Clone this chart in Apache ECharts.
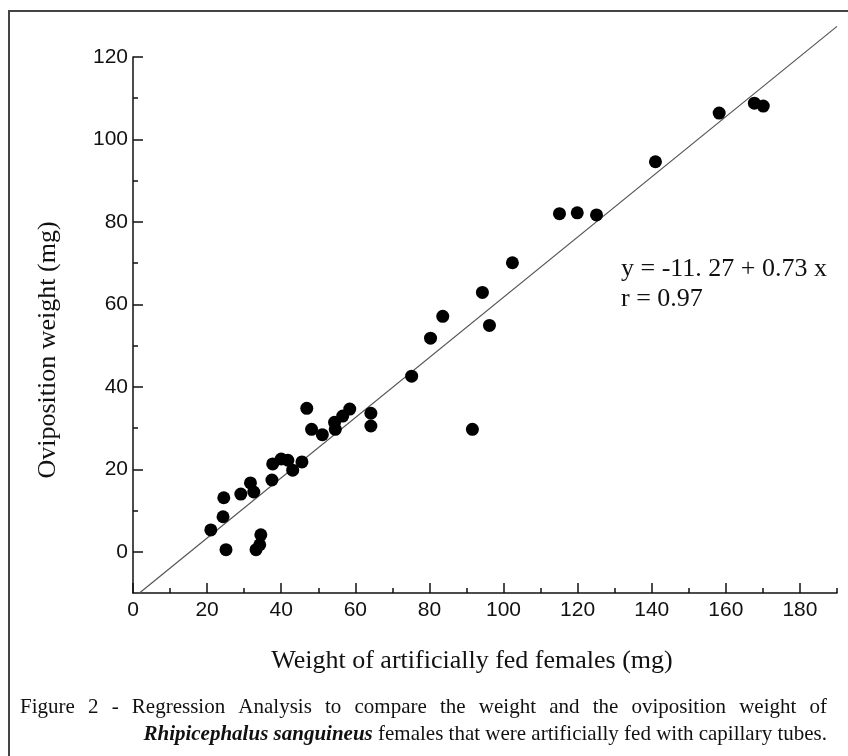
<!DOCTYPE html>
<html>
<head>
<meta charset="utf-8">
<script src="https://cdn.jsdelivr.net/npm/echarts@6/dist/echarts.min.js"></script>
<style>
  html, body { margin: 0; padding: 0; background: #fff; }
  #main { width: 848px; height: 756px; }
</style>
</head>
<body>
<div id="main"></div>
<script>
// weight of artificially fed females (mg)
var weightFed = [21.0, 24.3, 24.5, 25.1, 29.1, 31.7, 32.6, 33.2, 34.2, 34.5,
  37.5, 37.7, 40.0, 41.8, 43.1, 45.6, 46.9, 48.2, 51.1, 54.4,
  54.6, 56.6, 58.5, 64.2, 64.2, 75.2, 80.3, 83.6, 91.6, 94.3,
  96.2, 102.4, 115.1, 119.9, 125.1, 141.0, 158.2, 167.7, 170.1];
// oviposition weight (mg)
var ovipositionWeight = [5.3, 8.5, 13.1, 0.5, 14.0, 16.7, 14.5, 0.5, 1.7, 4.1,
  17.4, 21.3, 22.5, 22.2, 19.8, 21.8, 34.8, 29.7, 28.4, 31.4,
  29.7, 32.9, 34.6, 30.5, 33.6, 42.6, 51.8, 57.1, 29.7, 62.9,
  54.9, 70.1, 82.0, 82.2, 81.7, 94.6, 106.4, 108.8, 108.1];

// regression y = a + b x, drawn across the x range
var regA = -11.27;
var regB = 0.73;
var regLineX = [1.74, 190];

var xMajorTicks = [0, 20, 40, 60, 80, 100, 120, 140, 160, 180];
var xMinorTicks = [10, 30, 50, 70, 90, 110, 130, 150, 170, 190];
var yMajorTicks = [0, 20, 40, 60, 80, 100, 120];
var yMinorTicks = [10, 30, 50, 70, 90, 110];

var captionLine1 = 'Figure 2 - Regression Analysis to compare the weight and the oviposition weight of';
var captionSpecies = 'Rhipicephalus sanguineus';
var captionLine2 = ' females that were artificially fed with capillary tubes.';

var points = weightFed.map(function (x, i) { return [x, ovipositionWeight[i]]; });
var regLine = regLineX.map(function (x) { return [x, regA + regB * x]; });

var serif = '"Liberation Serif", "Times New Roman", serif';
var sans = '"Liberation Sans", Arial, sans-serif';

// justify the first caption line between two edges
var capFont = '21px ' + serif;
var ctx = document.createElement('canvas').getContext('2d');
ctx.font = capFont;
var words = captionLine1.split(' ');
var widths = words.map(function (w) { return ctx.measureText(w).width; });
var total = widths.reduce(function (a, b) { return a + b; }, 0);
var capLeft = 20, capRight = 827;
var gap = (capRight - capLeft - total) / (words.length - 1);
var captionEls = [];
var cx = capLeft;
words.forEach(function (w, i) {
  captionEls.push({
    type: 'text', left: cx, top: 697,
    style: { text: w, font: capFont, fill: '#111' }
  });
  cx += widths[i] + gap;
});

var myChart = echarts.init(document.getElementById('main'));

var axisLineStyle = { color: '#111', width: 1.5 };

myChart.setOption({
  animation: false,
  grid: { left: 133, right: 11, top: 57, bottom: 163 },
  xAxis: [
    {
      type: 'value', min: 0, max: 190, position: 'bottom',
      name: 'Weight of artificially fed females (mg)',
      nameLocation: 'middle', nameGap: 55,
      nameTextStyle: { fontFamily: serif, fontSize: 26, color: '#111', padding: [0, 26, 0, 0] },
      axisLine: { show: true, onZero: false, lineStyle: axisLineStyle },
      axisTick: { show: true, inside: true, length: 10, customValues: xMajorTicks, lineStyle: axisLineStyle },
      axisLabel: { customValues: xMajorTicks, fontFamily: sans, fontSize: 21, color: '#111', margin: 7 },
      splitLine: { show: false }
    },
    {
      type: 'value', min: 0, max: 190, position: 'bottom', offset: 0,
      axisLine: { show: false, onZero: false },
      axisTick: { show: true, inside: true, length: 5, customValues: xMinorTicks, lineStyle: axisLineStyle },
      axisLabel: { show: false },
      splitLine: { show: false }
    }
  ],
  yAxis: [
    {
      type: 'value', min: -10, max: 120, position: 'left',
      axisLine: { show: true, onZero: false, lineStyle: axisLineStyle },
      axisTick: { show: true, inside: true, length: 10, customValues: yMajorTicks, lineStyle: axisLineStyle },
      axisLabel: { customValues: yMajorTicks, fontFamily: sans, fontSize: 21, color: '#111', margin: 5 },
      splitLine: { show: false }
    },
    {
      type: 'value', min: -10, max: 120, position: 'left', offset: 0,
      axisLine: { show: false, onZero: false },
      axisTick: { show: true, inside: true, length: 5, customValues: yMinorTicks, lineStyle: axisLineStyle },
      axisLabel: { show: false },
      splitLine: { show: false }
    }
  ],
  graphic: [
    {
      type: 'rect', z: -1, silent: true,
      shape: { x: 9, y: 11, width: 900, height: 800 },
      style: { fill: 'none', stroke: '#444', lineWidth: 2 }
    },
    {
      type: 'text', x: 48, y: 350, rotation: Math.PI / 2,
      style: { text: 'Oviposition weight (mg)', font: '26px ' + serif, fill: '#111', align: 'center', verticalAlign: 'middle' }
    },
    {
      type: 'text', left: 621, top: 256,
      style: { text: 'y = -11. 27 + 0.73 x', font: '26px ' + serif, fill: '#111' }
    },
    {
      type: 'text', left: 621, top: 286,
      style: { text: 'r = 0.97', font: '26px ' + serif, fill: '#111' }
    },
    {
      type: 'text', right: 21, top: 724,
      style: {
        text: '{sp|' + captionSpecies + '}' + captionLine2,
        font: capFont, fill: '#111',
        rich: { sp: { fontFamily: serif, fontSize: 21, fontWeight: 'bold', fontStyle: 'italic' } }
      }
    }
  ].concat(captionEls),
  series: [
    {
      type: 'line',
      data: regLine,
      clip: false,
      symbol: 'none',
      silent: true,
      lineStyle: { color: '#555', width: 1.2 },
      z: 1
    },
    {
      type: 'scatter',
      data: points,
      symbolSize: 13,
      itemStyle: { color: '#000', opacity: 1 },
      z: 2
    }
  ]
});
</script>
</body>
</html>
